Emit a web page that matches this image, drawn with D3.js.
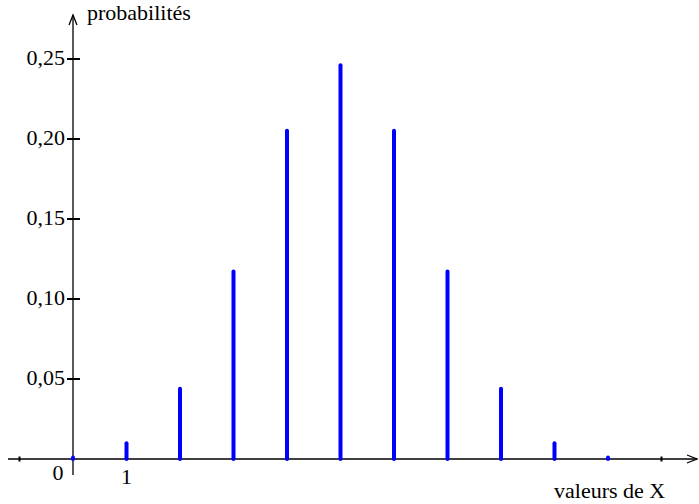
<!DOCTYPE html>
<html><head><meta charset="utf-8">
<script src="https://cdn.jsdelivr.net/npm/d3@7"></script>
<style>body{margin:0;background:#fff}svg{display:block}</style>
</head><body>
<script>
const xValues = [0,1,2,3,4,5,6,7,8,9,10];
const probabilities = [0.001,0.0098,0.0439,0.1172,0.2051,0.2461,0.2051,0.1172,0.0439,0.0098,0.001];
const yTicks = [0.05,0.10,0.15,0.20,0.25];
const yTickLabels = ["0,05","0,10","0,15","0,20","0,25"];
const xTicks = [-1,11];

const W=699,H=504;
const FONT="'Liberation Serif', 'DejaVu Serif', serif";
const svg=d3.select("body").append("svg").attr("width",W).attr("height",H)
  .attr("font-family",FONT);
const x=d3.scaleLinear().domain([0,10]).range([73,608]);
const y=d3.scaleLinear().domain([0,0.25]).range([459,59]);

// x axis
svg.append("line").attr("x1",8).attr("x2",697).attr("y1",y(0)).attr("y2",y(0)).attr("stroke","#000").attr("stroke-width",1.3);
svg.append("path").attr("d",`M${687},${y(0)-4}L697,${y(0)}L${687},${y(0)+4}`).attr("fill","none").attr("stroke","#000").attr("stroke-width",1.3);
svg.selectAll(".xt").data(xTicks).enter().append("line").attr("x1",d=>x(d)).attr("x2",d=>x(d)).attr("y1",y(0)-2.5).attr("y2",y(0)+2.5).attr("stroke","#000").attr("stroke-width",2);

// y axis
svg.append("line").attr("x1",x(0)).attr("x2",x(0)).attr("y1",15).attr("y2",475).attr("stroke","#000").attr("stroke-width",1.3);
svg.append("path").attr("d",`M${x(0)-4},25L${x(0)},15L${x(0)+4},25`).attr("fill","none").attr("stroke","#000").attr("stroke-width",1.3);
svg.selectAll(".yt").data(yTicks).enter().append("line").attr("x1",x(0)-6).attr("x2",x(0)+7).attr("y1",d=>y(d)).attr("y2",d=>y(d)).attr("stroke","#000").attr("stroke-width",2);
svg.selectAll(".yl").data(yTicks).enter().append("text").attr("font-family",FONT).attr("x",x(0)-8).attr("y",d=>y(d)+6).attr("text-anchor","end").attr("font-size",22).text((d,i)=>yTickLabels[i]);

// labels
svg.append("text").attr("font-family",FONT).attr("x",87).attr("y",20).attr("font-size",22).text("probabilités");
svg.append("text").attr("font-family",FONT).attr("x",554).attr("y",498).attr("font-size",22).text("valeurs de X");
svg.append("text").attr("font-family",FONT).attr("x",58).attr("y",480).attr("text-anchor","middle").attr("font-size",22).text("0");
svg.append("text").attr("font-family",FONT).attr("x",x(1)).attr("y",484).attr("text-anchor","middle").attr("font-size",22).text("1");

// bars
svg.selectAll(".bar").data(xValues).enter().append("line")
 .attr("x1",d=>x(d)).attr("x2",d=>x(d))
 .attr("y1",y(0)).attr("y2",(d,i)=>Math.min(y(probabilities[i]),y(0)-1.5))
 .attr("stroke","#0000ff").attr("stroke-width",4).attr("stroke-linecap","round");
</script>
</body></html>
